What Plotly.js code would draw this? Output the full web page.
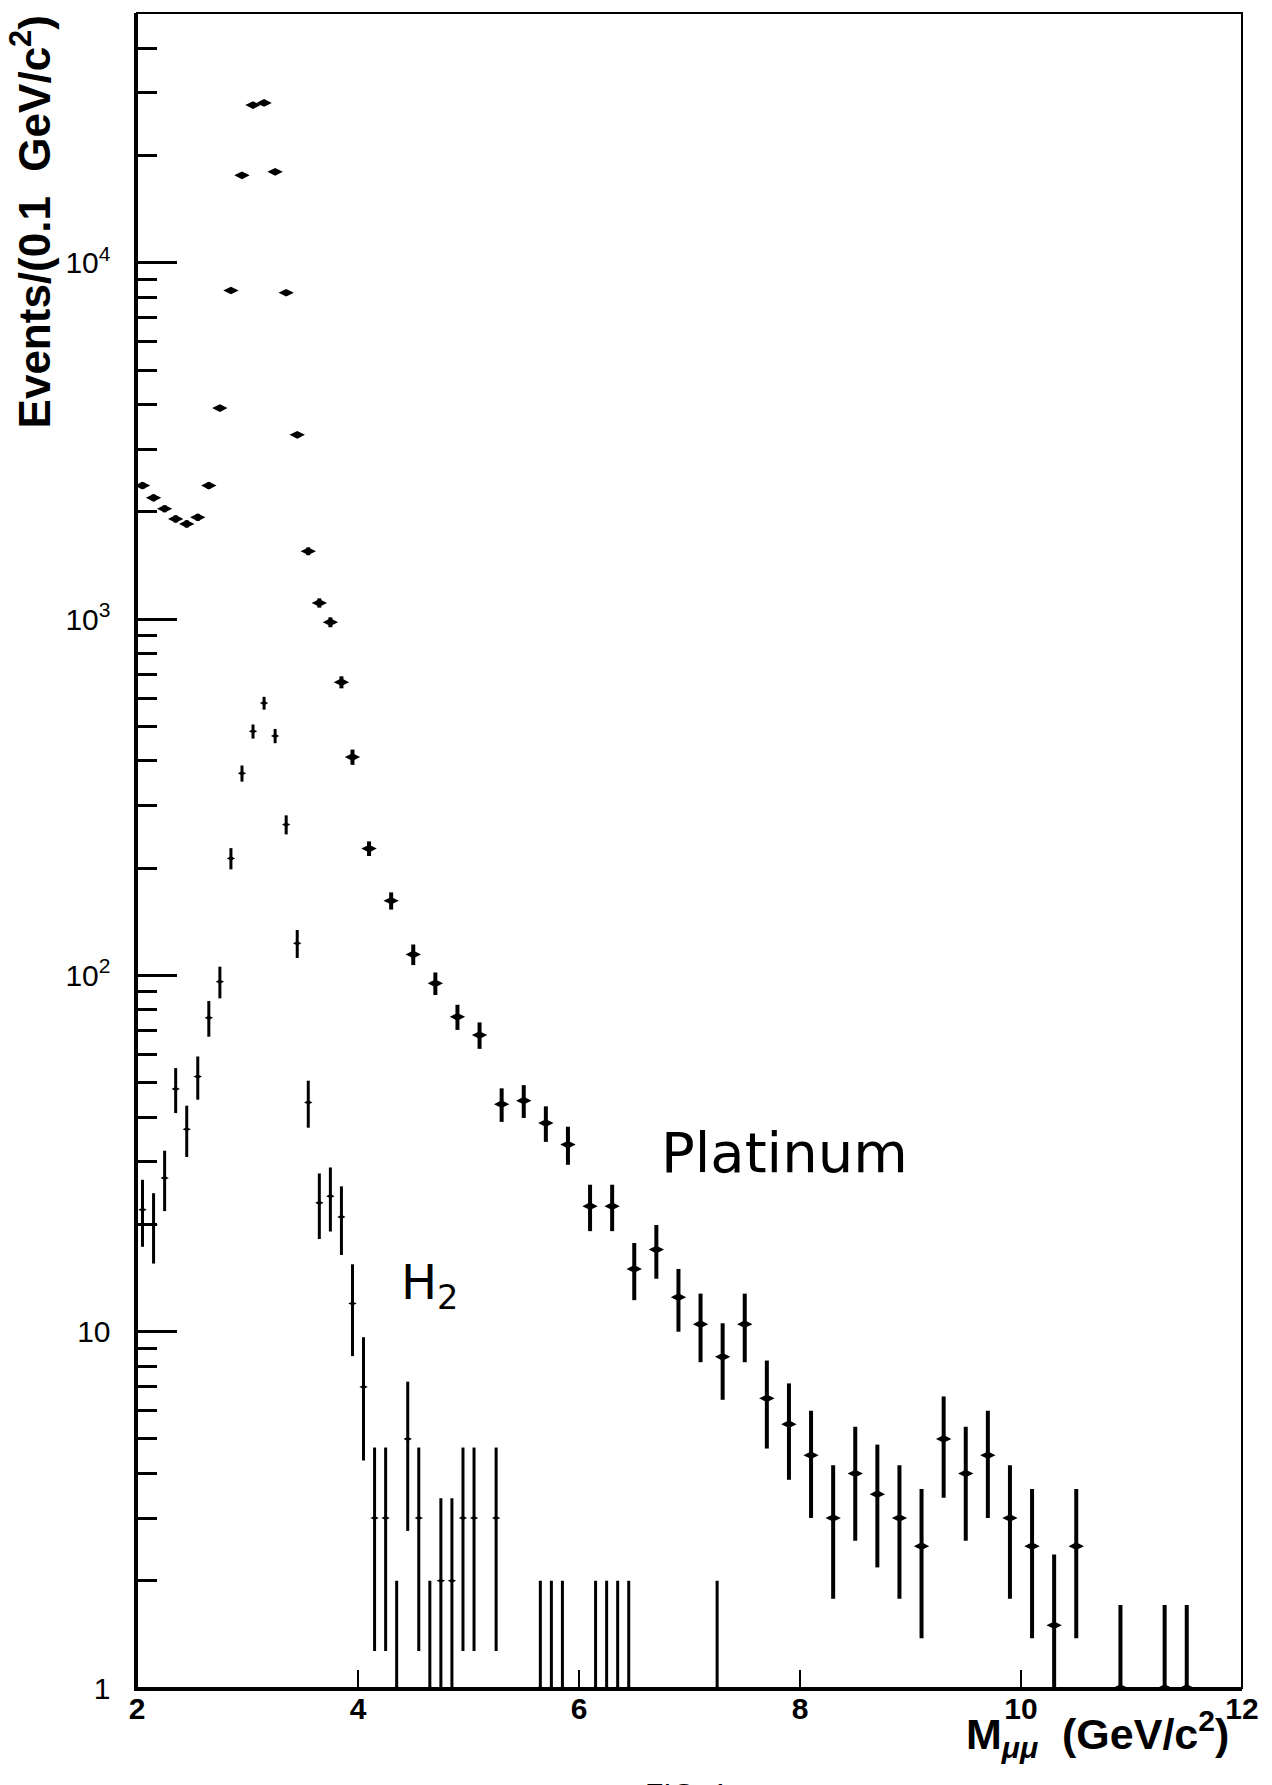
<!DOCTYPE html>
<html><head><meta charset="utf-8">
<script src="https://cdn.plot.ly/plotly-3.0.1.min.js"></script>
<style>html,body{margin:0;padding:0;background:#fff}#chart{width:1272px;height:1785px}</style>
</head><body><div id="chart"></div>
<script>
// Platinum target (0.1 GeV bins below 4 GeV, 0.2 GeV bins above, normalised per 0.1 GeV)
const ptMass = [2.05,2.15,2.25,2.35,2.45,2.55,2.65,2.75,2.85,2.95,3.05,3.15,3.25,3.35,3.45,3.55,3.65,3.75,3.85,3.95,
  4.1,4.3,4.5,4.7,4.9,5.1,5.3,5.5,5.7,5.9,
  6.1,6.3,6.5,6.7,6.9,7.1,7.3,7.5,7.7,7.9,8.1,8.3,8.5,8.7,8.9,9.1,9.3,9.5,9.7,9.9,10.1,10.3,10.5,
  10.9,11.3,11.5];
const ptEvents = [2370,2190,2040,1910,1850,1930,2370,3910,8360,17600,27700,28100,18000,8240,3290,1550,1110,980,665,410,
  227,162,114.5,95,76.5,68,43.5,44.5,38.5,33.5,
  22.5,22.5,15,17,12.5,10.5,8.5,10.5,6.5,5.5,4.5,3,4,3.5,3,2.5,5,4,4.5,3,2.5,1.5,2.5,
  1,1,1];
const ptErr = [48.7,46.8,45.2,43.7,43,43.9,48.7,62.5,91.4,133,166,168,134,90.8,57.4,39.4,33.3,31.3,25.8,20.2,
  10.7,9.0,7.6,6.9,6.2,5.8,4.7,4.7,4.4,4.1,
  3.35,3.35,2.74,2.92,2.5,2.29,2.06,2.29,1.80,1.66,1.5,1.22,1.41,1.32,1.22,1.12,1.58,1.41,1.5,1.22,1.12,0.87,1.12,
  0.71,0.71,0.71];

// H2 target (0.1 GeV bins)
const h2Mass = [2.05,2.15,2.25,2.35,2.45,2.55,2.65,2.75,2.85,2.95,3.05,3.15,3.25,3.35,3.45,3.55,3.65,3.75,3.85,3.95,
  4.05,4.15,4.25,4.35,4.45,4.55,4.65,4.75,4.85,4.95,5.05,5.25,
  5.65,5.75,5.85,6.15,6.25,6.35,6.45,7.25];
const h2Events = [22,20,27,48,37,52,76,96,213,369,484,581,470,265,123,44,23,24,21,12,
  7,3,3,1,5,3,1,2,2,3,3,3,
  1,1,1,1,1,1,1,1];
const h2Err = [4.69,4.47,5.2,6.93,6.08,7.21,8.72,9.8,14.6,19.2,22,24.1,21.7,16.3,11.1,6.63,4.8,4.9,4.58,3.46,
  2.65,1.73,1.73,1,2.24,1.73,1,1.41,1.41,1.73,1.73,1.73,
  1,1,1,1,1,1,1,1];

const xTickVals = [2,4,6,8,10,12];
const xTickText = ['2','4','6','8','10','12'];
const yTickVals = [1,10,100,1000,10000];
const yTickText = ['1','10','10<sup>2</sup>','10<sup>3</sup>','10<sup>4</sup>'];
const yMinorVals = [2,3,4,5,6,7,8,9,20,30,40,50,60,70,80,90,200,300,400,500,600,700,800,900,
  2000,3000,4000,5000,6000,7000,8000,9000,20000,30000,40000];

const traces = [
  {
    x: ptMass, y: ptEvents, type: 'scatter', mode: 'markers', name: 'Platinum',
    marker: {symbol: 'diamond-wide', size: 11, color: '#000'},
    error_y: {type: 'data', array: ptErr, visible: true, color: '#000', thickness: 4, width: 0},
    hoverinfo: 'x+y'
  },
  {
    x: h2Mass, y: h2Events, type: 'scatter', mode: 'markers', name: 'H2',
    marker: {symbol: 'diamond-wide', size: 6, color: '#000'},
    error_y: {type: 'data', array: h2Err, visible: true, color: '#000', thickness: 3, width: 0},
    hoverinfo: 'x+y'
  }
];

const layout = {
  width: 1272, height: 1785,
  margin: {l: 137, r: 30, t: 13, b: 97},
  paper_bgcolor: '#fff', plot_bgcolor: '#fff',
  showlegend: false,
  font: {family: 'Liberation Sans, Arial, sans-serif', color: '#000'},
  xaxis: {
    range: [2, 12], tickmode: 'array', tickvals: xTickVals, ticktext: xTickText,
    ticks: 'inside', ticklen: 18, tickwidth: 2.5, tickcolor: '#000',
    showline: true, linewidth: 3, linecolor: '#000',
    showgrid: false, zeroline: false,
    ticklabelstandoff: -8,
    tickfont: {family: 'Liberation Sans Narrow, Liberation Sans, Arial, sans-serif', size: 30, weight: 'bold', color: '#000'}
  },
  yaxis: {
    type: 'log', range: [0, 4.701], tickmode: 'array', tickvals: yTickVals, ticktext: yTickText,
    ticks: 'inside', ticklen: 40, tickwidth: 3, tickcolor: '#000',
    minor: {tickmode: 'array', tickvals: yMinorVals, ticks: 'inside', ticklen: 20, tickwidth: 3, tickcolor: '#000', showgrid: false},
    showline: true, linewidth: 3.5, linecolor: '#000',
    showgrid: false, zeroline: false,
    ticklabelstandoff: 17,
    tickfont: {family: 'Liberation Sans, Arial, sans-serif', size: 30, color: '#000'}
  },
  shapes: [
    {type: 'rect', xref: 'paper', yref: 'paper', x0: 0, x1: 1, y0: 0, y1: 1, line: {color: '#000', width: 2}, layer: 'above'}
  ],
  annotations: [
    {x: 7.857, y: 1.5025, xref: 'x', yref: 'y', text: 'Platinum', showarrow: false,
     xanchor: 'center', yanchor: 'middle', font: {family: 'DejaVu Sans, sans-serif', size: 56, color: '#000'}},
    {x: 4.643, y: 1.13, xref: 'x', yref: 'y', text: 'H<sub>2</sub>', showarrow: false,
     xanchor: 'center', yanchor: 'middle', font: {family: 'DejaVu Sans, sans-serif', size: 48, color: '#000'}},
    {x: -0.096, y: 1.0, xref: 'paper', yref: 'paper', text: 'Events/(0.1\u00a0 GeV/c<sup>2</sup>)', showarrow: false,
     textangle: -90, xanchor: 'center', yanchor: 'top',
     font: {family: 'Liberation Sans, Arial, sans-serif', size: 44, weight: 'bold', color: '#000'}},
    {x: 0.99, y: -0.0275, xref: 'paper', yref: 'paper', text: 'M<sub><i>\u03bc\u03bc</i></sub>\u00a0 (GeV/c<sup>2</sup>)', showarrow: false,
     xanchor: 'right', yanchor: 'middle',
     font: {family: 'Liberation Sans, Arial, sans-serif', size: 43, weight: 'bold', color: '#000'}},
    {x: 0.497, y: -0.052, xref: 'paper', yref: 'paper', text: 'FIG. 1', showarrow: false,
     xanchor: 'center', yanchor: 'top',
     font: {family: 'Liberation Sans, Arial, sans-serif', size: 30, color: '#000'}}
  ]
};

Plotly.newPlot('chart', traces, layout, {staticPlot: true, displayModeBar: false});
</script>
</body></html>
